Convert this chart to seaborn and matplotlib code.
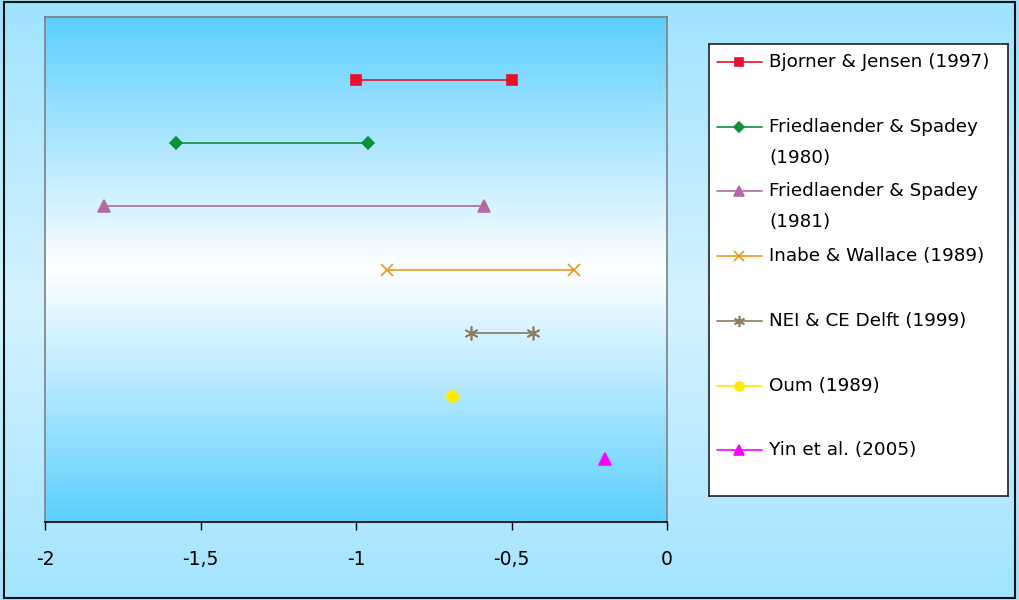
import matplotlib
matplotlib.use("Agg")
import matplotlib.pyplot as plt
import numpy as np
import pandas as pd
import seaborn as sns
from matplotlib.colors import LinearSegmentedColormap
from matplotlib.patches import Rectangle

# data: elasticity ranges per study (low, high), rows from top to bottom
studies = [
    "Bjorner & Jensen (1997)",
    "Friedlaender & Spadey (1980)",
    "Friedlaender & Spadey (1981)",
    "Inabe & Wallace (1989)",
    "NEI & CE Delft (1999)",
    "Oum (1989)",
    "Yin et al. (2005)",
]
legend_labels = [
    "Bjorner & Jensen (1997)",
    "Friedlaender & Spadey\n(1980)",
    "Friedlaender & Spadey\n(1981)",
    "Inabe & Wallace (1989)",
    "NEI & CE Delft (1999)",
    "Oum (1989)",
    "Yin et al. (2005)",
]
low_values = [-1.0, -1.58, -1.81, -0.9, -0.63, -0.69, -0.2]
high_values = [-0.5, -0.96, -0.59, -0.3, -0.43, -0.69, -0.2]
row_pos = [7, 6, 5, 4, 3, 2, 1]
x_ticks = [-2, -1.5, -1, -0.5, 0]
x_tick_labels = ["-2", "-1,5", "-1", "-0,5", "0"]

colors = ["#e8112d", "#12903c", "#b06aa8", "#e89a1c", "#8c7b5e", "#ffea00", "#ff00ff"]
markers = ["s", "D", "^", "x", (6, 2, 0), "o", "^"]
msizes = [7, 6, 9, 9, 10, 8, 9]

rows = []
for s, lo, hi, y in zip(studies, low_values, high_values, row_pos):
    rows.append({"study": s, "x": lo, "y": y})
    if hi != lo:
        rows.append({"study": s, "x": hi, "y": y})
df = pd.DataFrame(rows)

sns.set_style("white")
plt.rcParams["font.family"] = ["DejaVu Sans"]
plt.rcParams["text.color"] = "black"

fig = plt.figure(figsize=(10.19, 6.0), dpi=100)

# figure background gradient
bg = fig.add_axes([0, 0, 1, 1], zorder=-10)
bg_cmap = LinearSegmentedColormap.from_list("bg", ["#9fe3ff", "#d4f2ff", "#a3e4ff"])
bg.imshow(np.linspace(0, 1, 256).reshape(-1, 1), aspect="auto", cmap=bg_cmap,
          extent=[0, 1, 0, 1], origin="upper")
bg.set_axis_off()
fig.patches.append(Rectangle((0.004, 0.004), 0.992, 0.993, transform=fig.transFigure,
                             fill=False, edgecolor="#111111", linewidth=1.5))

ax = fig.add_axes([45 / 1019, 1 - 522 / 600, 622 / 1019, 505 / 600])
plot_cmap = LinearSegmentedColormap.from_list("pa", ["#5ccfff", "#ffffff", "#5ccfff"])
ax.imshow(np.linspace(0, 1, 256).reshape(-1, 1), aspect="auto", cmap=plot_cmap,
          extent=[0, 1, 0, 1], origin="upper", transform=ax.transAxes, zorder=0)

for i, s in enumerate(studies):
    sub = df[df["study"] == s]
    sns.lineplot(data=sub, x="x", y="y", ax=ax, color=colors[i], marker=markers[i],
                 markersize=msizes[i], markeredgecolor=colors[i], markeredgewidth=1.2,
                 linewidth=1.2, zorder=3, legend=False)

ax.set_xlim(-2, 0)
ax.set_ylim(0, 8)
ax.set_xticks(x_ticks)
ax.set_xticklabels(x_tick_labels, fontsize=13.5, color="black")
ax.set_yticks([])
ax.set_xlabel("")
ax.set_ylabel("")
ax.tick_params(axis="x", direction="out", length=6, width=1, colors="black", pad=14, bottom=True)
for side in ["left", "top", "right"]:
    ax.spines[side].set_color("#808080")
    ax.spines[side].set_linewidth(1.2)
ax.spines["bottom"].set_color("black")
ax.spines["bottom"].set_linewidth(1.2)

# legend box
lx0, ly0, lx1, ly1 = 709, 44, 1008, 496
lg = fig.add_axes([lx0 / 1019, 1 - ly1 / 600, (lx1 - lx0) / 1019, (ly1 - ly0) / 600])
lg.set_xlim(lx0, lx1)
lg.set_ylim(ly1, ly0)
lg.set_facecolor("white")
lg.set_xticks([])
lg.set_yticks([])
for sp in lg.spines.values():
    sp.set_color("#222222")
    sp.set_linewidth(1.2)
handle_y = [62, 127, 191, 256, 321, 386, 450]
for i, lab in enumerate(legend_labels):
    hy = handle_y[i]
    lg.plot([717, 762], [hy, hy], color=colors[i], linewidth=1.2)
    lg.plot([739], [hy], color=colors[i], marker=markers[i], markersize=msizes[i] * 0.8,
            markeredgecolor=colors[i], markeredgewidth=1.2)
    lg.text(769, hy - 9, lab, fontsize=13.2, va="top", ha="left", linespacing=1.95,
            color="black")

fig.savefig("out.png", dpi=100)
